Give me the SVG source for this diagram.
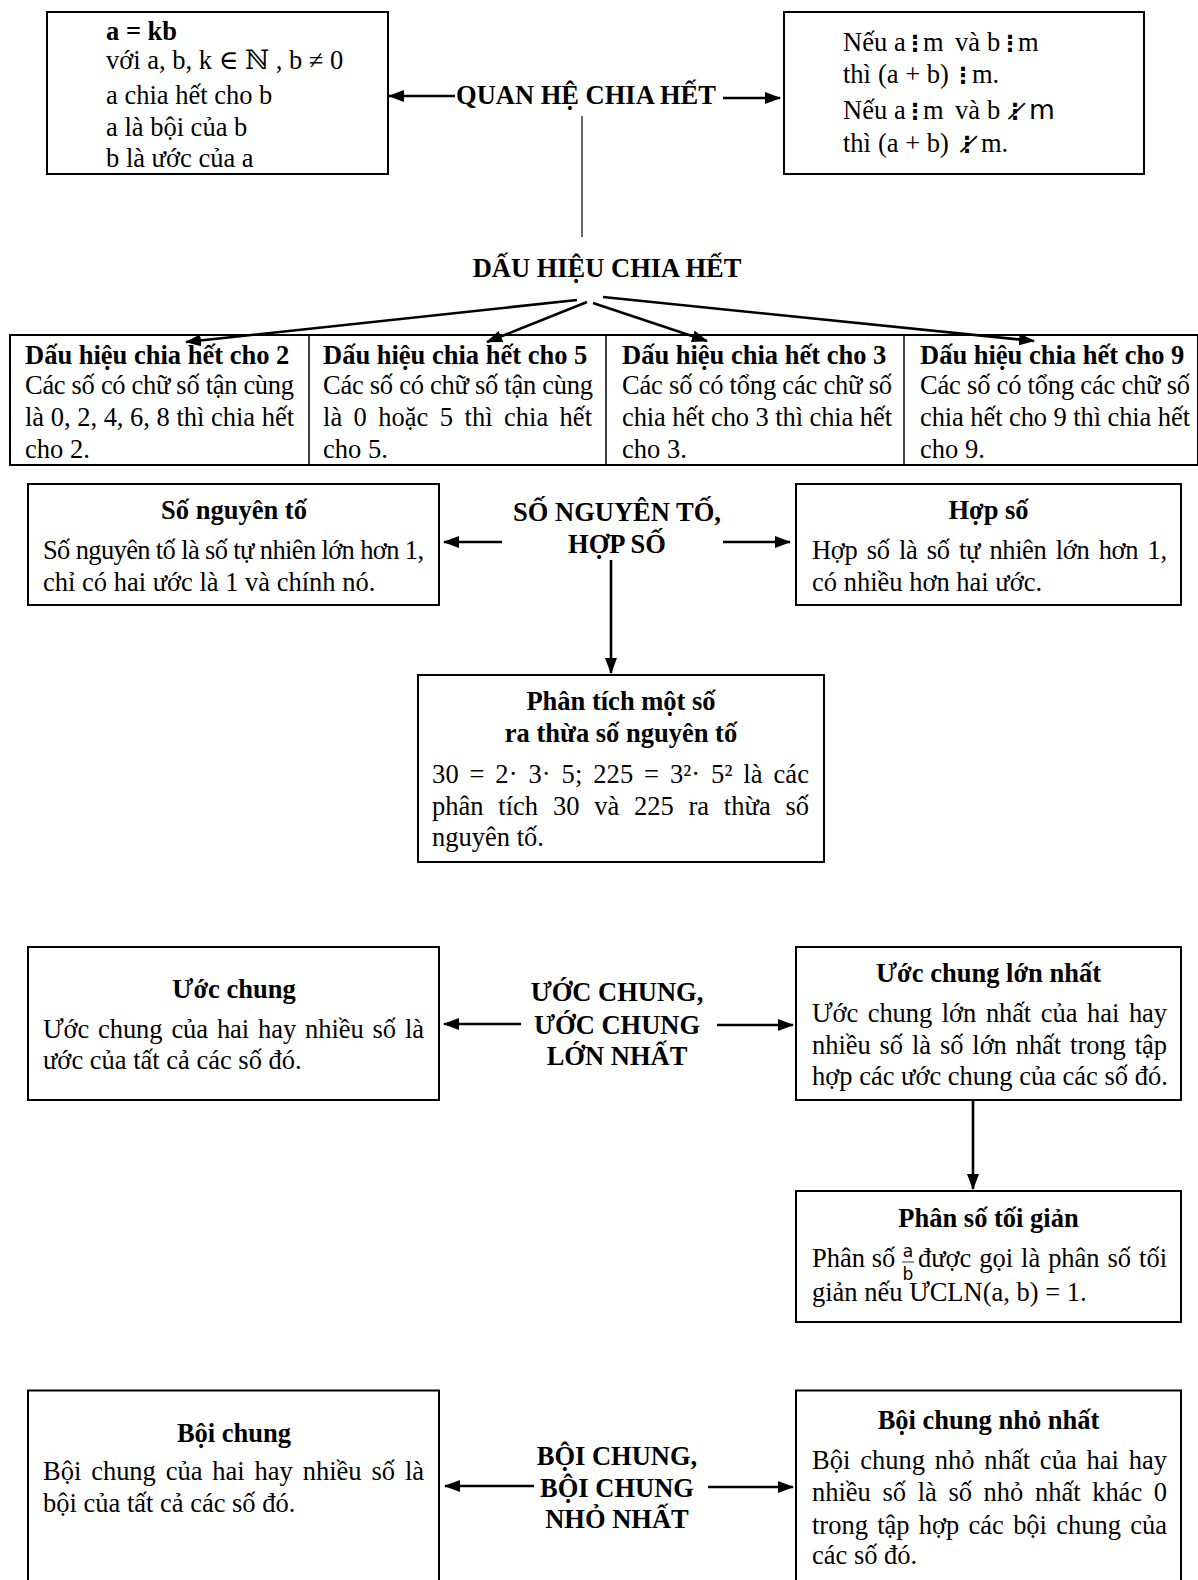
<svg xmlns="http://www.w3.org/2000/svg" width="1198" height="1580" viewBox="0 0 1198 1580">
<defs>
<marker id="ah" markerUnits="userSpaceOnUse" markerWidth="16" markerHeight="12" refX="15" refY="6" orient="auto">
<path d="M0,0 L16,6 L0,12 z" fill="#000"/>
</marker>
<style>
text{font-family:"Liberation Serif","DejaVu Serif",serif;font-size:26.5px;fill:#000}
.b{font-weight:bold}
.m{text-anchor:middle}
.box{fill:#fff;stroke:#000;stroke-width:2}
.ar{stroke:#000;stroke-width:2.6;fill:none;marker-end:url(#ah)}
.sans{font-family:"DejaVu Sans","Liberation Sans",sans-serif}
.dv{font-family:"DejaVu Sans",sans-serif;font-size:22px;font-weight:bold;text-anchor:middle}
.fr{font-family:"DejaVu Sans","Liberation Sans",sans-serif;font-size:17px;text-anchor:middle}
</style>
</defs>
<rect width="1198" height="1580" fill="#fff"/>

<g id="connectors">
<line class="ar" x1="455" y1="96" x2="389" y2="96"/>
<line class="ar" x1="723" y1="98" x2="780" y2="98"/>
<line x1="582" y1="116" x2="582" y2="237" stroke="#000" stroke-width="1.2"/>
<line class="ar" x1="577" y1="300" x2="186" y2="342"/>
<line class="ar" x1="587" y1="302" x2="487" y2="342"/>
<line class="ar" x1="593" y1="303" x2="707" y2="341"/>
<line class="ar" x1="603" y1="297" x2="1034" y2="341"/>
<line class="ar" x1="502" y1="542" x2="444" y2="542"/>
<line class="ar" x1="723" y1="542" x2="790" y2="542"/>
<line class="ar" x1="611" y1="560" x2="611" y2="673"/>
<line class="ar" x1="521" y1="1024" x2="444" y2="1024"/>
<line class="ar" x1="717" y1="1025" x2="793" y2="1025"/>
<line class="ar" x1="973" y1="1101" x2="973" y2="1189"/>
<line class="ar" x1="534" y1="1486" x2="445" y2="1486"/>
<line class="ar" x1="708" y1="1487" x2="793" y2="1487"/>
</g>

<g id="def-box">
<rect class="box" x="47" y="12" width="341" height="162"/>
<text class="b" x="106" y="40">a = kb</text>
<text x="106" y="69">với a, b, k ∈ ℕ , b ≠ 0</text>
<text x="106" y="104">a chia hết cho b</text>
<text x="106" y="136">a là bội của b</text>
<text x="106" y="167">b là ước của a</text>
</g>

<g id="quan-he">
<text class="b m" x="586" y="104">QUAN HỆ CHIA HẾT</text>
</g>

<g id="tinh-chat">
<rect class="box" x="784" y="12" width="360" height="162"/>
<text y="51"><tspan x="843">Nếu</tspan><tspan x="894">a</tspan><tspan class="dv" x="915">⋮</tspan><tspan x="923">m</tspan><tspan x="955">và</tspan><tspan x="987">b</tspan><tspan class="dv" x="1010">⋮</tspan><tspan x="1018">m</tspan></text>
<text y="83"><tspan x="843">thì</tspan><tspan x="878">(a + b)</tspan><tspan class="dv" x="963">⋮</tspan><tspan x="972">m.</tspan></text>
<text y="119"><tspan x="843">Nếu</tspan><tspan x="894">a</tspan><tspan class="dv" x="915">⋮</tspan><tspan x="923">m</tspan><tspan x="955">và</tspan><tspan x="987">b</tspan><tspan class="dv" x="1015">⋮̸</tspan><tspan class="sans" x="1029">m</tspan></text>
<text y="152"><tspan x="843">thì</tspan><tspan x="878">(a + b)</tspan><tspan class="dv" x="967">⋮̸</tspan><tspan x="981">m.</tspan></text>
</g>

<g id="dau-hieu">
<text class="b m" x="607" y="277">DẤU HIỆU CHIA HẾT</text>
</g>

<g id="table">
<rect x="10" y="335" width="1188" height="130" fill="none" stroke="#000" stroke-width="2"/>
<line x1="309" y1="335" x2="309" y2="465" stroke="#000" stroke-width="1.5"/>
<line x1="606" y1="335" x2="606" y2="465" stroke="#000" stroke-width="1.5"/>
<line x1="904" y1="335" x2="904" y2="465" stroke="#000" stroke-width="1.5"/>
</g>
<g id="cell-2">
<text class="b" x="25" y="364">Dấu hiệu chia hết cho 2</text>
<text x="25" y="394" textLength="269" lengthAdjust="spacing">Các số có chữ số tận cùng</text>
<text x="25" y="426" textLength="269" lengthAdjust="spacing">là 0, 2, 4, 6, 8 thì chia hết</text>
<text x="25" y="458">cho 2.</text>
</g>
<g id="cell-5">
<text class="b" x="323" y="364">Dấu hiệu chia hết cho 5</text>
<text x="323" y="394" textLength="270" lengthAdjust="spacing">Các số có chữ số tận cùng</text>
<text x="323" y="426" textLength="269" lengthAdjust="spacing" word-spacing="4.8">là 0 hoặc 5 thì chia hết</text>
<text x="323" y="458">cho 5.</text>
</g>
<g id="cell-3">
<text class="b" x="622" y="364">Dấu hiệu chia hết cho 3</text>
<text x="622" y="394" textLength="270" lengthAdjust="spacing">Các số có tổng các chữ số</text>
<text x="622" y="426" textLength="270" lengthAdjust="spacing">chia hết cho 3 thì chia hết</text>
<text x="622" y="458">cho 3.</text>
</g>
<g id="cell-9">
<text class="b" x="920" y="364">Dấu hiệu chia hết cho 9</text>
<text x="920" y="394" textLength="270" lengthAdjust="spacing">Các số có tổng các chữ số</text>
<text x="920" y="426" textLength="270" lengthAdjust="spacing">chia hết cho 9 thì chia hết</text>
<text x="920" y="458">cho 9.</text>
</g>

<g id="so-nguyen-to">
<rect class="box" x="28" y="484" width="411" height="121"/>
<text class="b m" x="234" y="519">Số nguyên tố</text>
<text x="43" y="559" textLength="381" lengthAdjust="spacing">Số nguyên tố là số tự nhiên lớn hơn 1,</text>
<text x="43" y="591">chỉ có hai ước là 1 và chính nó.</text>
</g>
<g id="snt-hs">
<text class="b m" x="617" y="521">SỐ NGUYÊN TỐ,</text>
<text class="b m" x="617" y="553">HỢP SỐ</text>
</g>
<g id="hop-so">
<rect class="box" x="796" y="484" width="385" height="121"/>
<text class="b m" x="988.5" y="519">Hợp số</text>
<text x="812" y="559" textLength="355" lengthAdjust="spacing" word-spacing="3.2">Hợp số là số tự nhiên lớn hơn 1,</text>
<text x="812" y="591">có nhiều hơn hai ước.</text>
</g>

<g id="phan-tich">
<rect class="box" x="418" y="675" width="406" height="187"/>
<text class="b m" x="621" y="710">Phân tích một số</text>
<text class="b m" x="621" y="742">ra thừa số nguyên tố</text>
<text x="432" y="783" textLength="377" lengthAdjust="spacing" word-spacing="4">30 = 2· 3· 5; 225 = 3²· 5² là các</text>
<text x="432" y="815" textLength="377" lengthAdjust="spacing" word-spacing="8.1">phân tích 30 và 225 ra thừa số</text>
<text x="432" y="846">nguyên tố.</text>
</g>

<g id="uoc-chung">
<rect class="box" x="28" y="947" width="411" height="153"/>
<text class="b m" x="234" y="998">Ước chung</text>
<text x="43" y="1038" textLength="381" lengthAdjust="spacing" word-spacing="2.4">Ước chung của hai hay nhiều số là</text>
<text x="43" y="1069">ước của tất cả các số đó.</text>
</g>
<g id="uc-ucln">
<text class="b m" x="617" y="1001">ƯỚC CHUNG,</text>
<text class="b m" x="617" y="1034">ƯỚC CHUNG</text>
<text class="b m" x="617" y="1065">LỚN NHẤT</text>
</g>
<g id="ucln">
<rect class="box" x="796" y="947" width="385" height="153"/>
<text class="b m" x="988.5" y="982">Ước chung lớn nhất</text>
<text x="812" y="1022" textLength="355" lengthAdjust="spacing" word-spacing="3.2">Ước chung lớn nhất của hai hay</text>
<text x="812" y="1054" textLength="355" lengthAdjust="spacing" word-spacing="2.3">nhiều số là số lớn nhất trong tập</text>
<text x="812" y="1085">hợp các ước chung của các số đó.</text>
</g>

<g id="phan-so-toi-gian">
<rect class="box" x="796" y="1191" width="385" height="131"/>
<text class="b m" x="988.5" y="1227">Phân số tối giản</text>
<text x="812" y="1267">Phân số</text>
<text class="fr" x="908" y="1257">a</text>
<line x1="902" y1="1262" x2="914" y2="1262" stroke="#000" stroke-width="0.8"/>
<text class="fr" x="908" y="1280">b</text>
<text x="918" y="1267" textLength="249" lengthAdjust="spacing" word-spacing="1.5">được gọi là phân số tối</text>
<text x="812" y="1301">giản nếu ƯCLN(a, b) = 1.</text>
</g>

<g id="boi-chung">
<rect class="box" x="28" y="1390.5" width="411" height="200"/>
<text class="b m" x="234" y="1442">Bội chung</text>
<text x="43" y="1480" textLength="381" lengthAdjust="spacing" word-spacing="3.3">Bội chung của hai hay nhiều số là</text>
<text x="43" y="1512">bội của tất cả các số đó.</text>
</g>
<g id="bc-bcnn">
<text class="b m" x="617" y="1465">BỘI CHUNG,</text>
<text class="b m" x="617" y="1497">BỘI CHUNG</text>
<text class="b m" x="617" y="1528">NHỎ NHẤT</text>
</g>
<g id="bcnn">
<rect class="box" x="796" y="1390.5" width="385" height="200"/>
<text class="b m" x="988.5" y="1429">Bội chung nhỏ nhất</text>
<text x="812" y="1469" textLength="355" lengthAdjust="spacing" word-spacing="3.2">Bội chung nhỏ nhất của hai hay</text>
<text x="812" y="1501" textLength="355" lengthAdjust="spacing" word-spacing="5">nhiều số là số nhỏ nhất khác 0</text>
<text x="812" y="1533.5" textLength="355" lengthAdjust="spacing" word-spacing="2.7">trong tập hợp các bội chung của</text>
<text x="812" y="1564">các số đó.</text>
</g>
</svg>
